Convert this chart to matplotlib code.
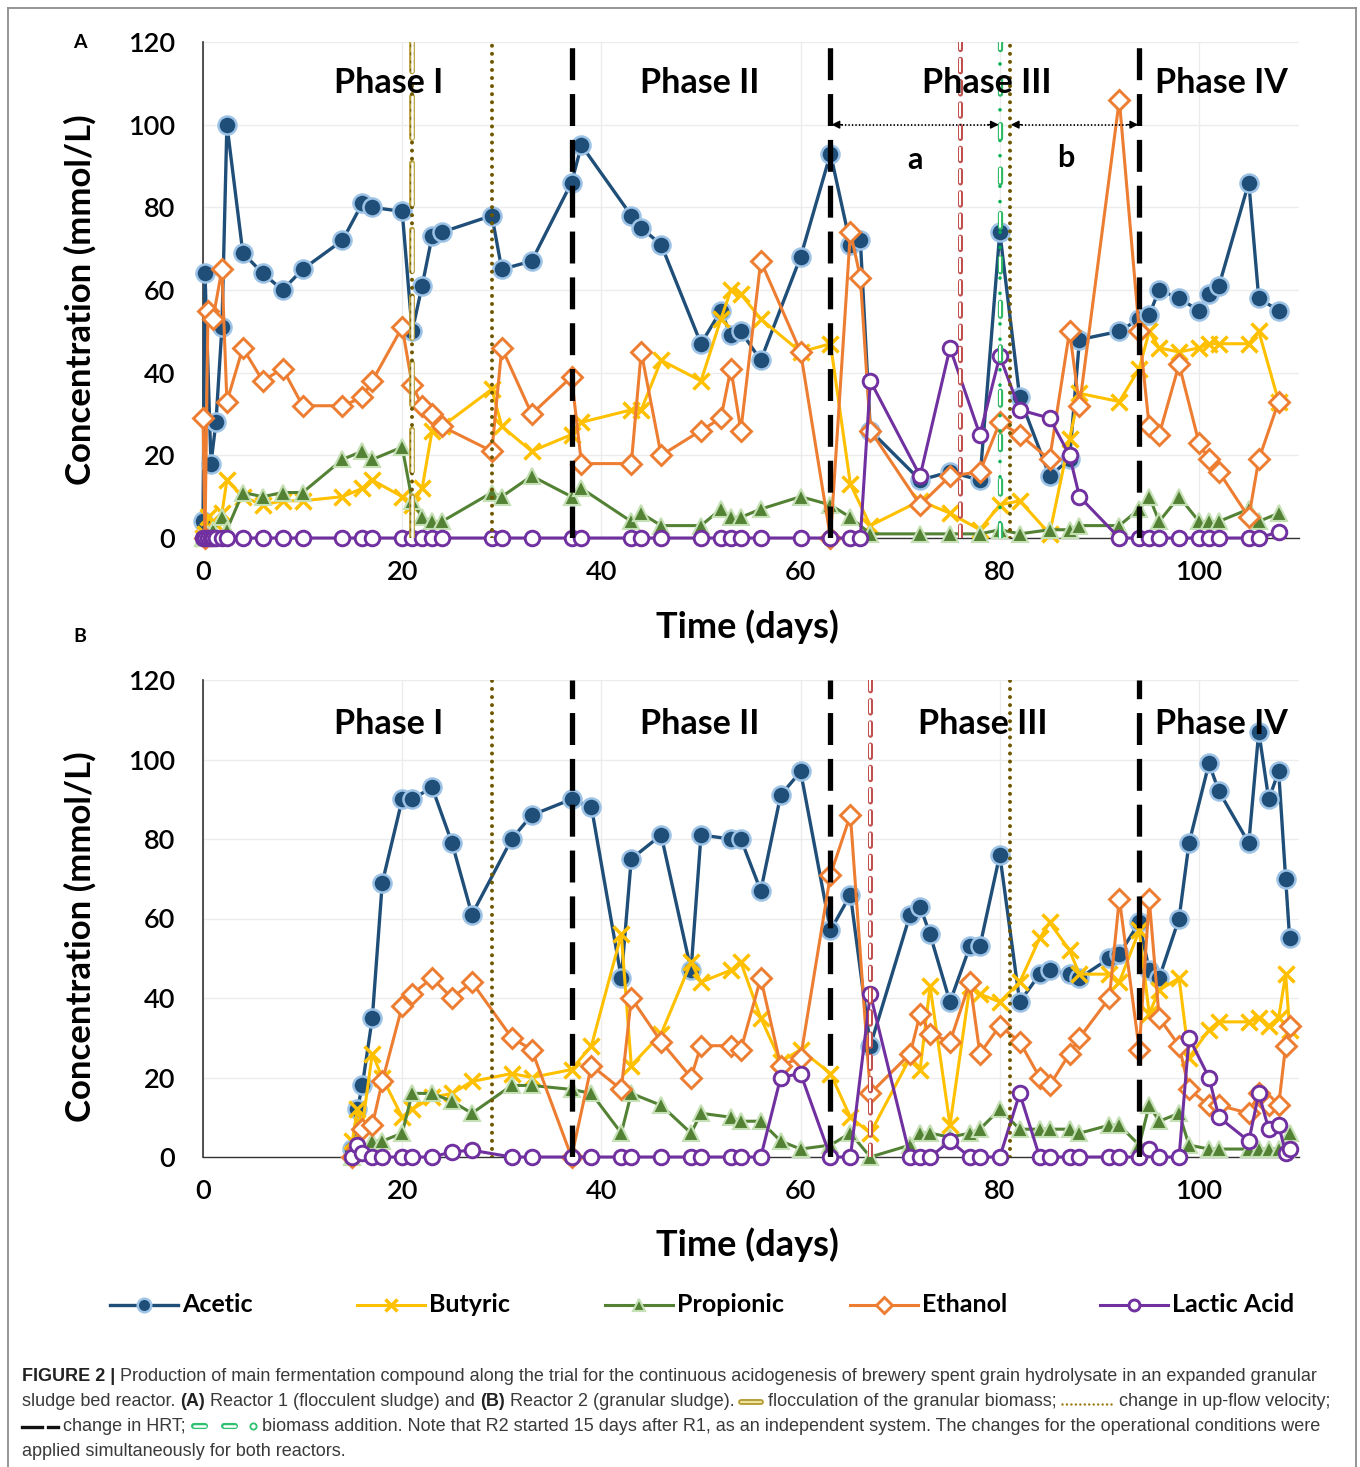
import numpy as np
import matplotlib
matplotlib.use('Agg')
import matplotlib.pyplot as plt
from matplotlib.lines import Line2D
from matplotlib import font_manager as fm

nan = np.nan

# ---------------- data: Reactor 1 (panel A) ----------------
A_days = [0, 0.2, 0.5, 0.8, 1.0, 1.3, 1.9, 2.4, 4, 6, 8, 10, 14, 16, 17, 20, 21, 22, 23, 24,
          29, 30, 33, 37, 38, 43, 44, 46, 50, 52, 53, 54, 56, 60, 63, 65, 66, 67, 72, 75,
          78, 80, 82, 85, 87, 88, 92, 94, 95, 96, 98, 100, 101, 102, 105, 106, 108]
A_acetic = [4, 64, nan, 18, nan, 28, 51, 100, 69, 64, 60, 65, 72, 81, 80, 79, 50, 61, 73, 74,
            78, 65, 67, 86, 95, 78, 75, 71, 47, 55, 49, 50, 43, 68, 93, 71, 72, 26, 14, 16,
            14, 74, 34, 15, 19, 48, 50, 53, 54, 60, 58, 55, 59, 61, 86, 58, 55]
A_butyric = [0, 1, 5, nan, 4, nan, 6, 14, 10, 8, 9, 9, 10, 12, 14, 10, 8, 12, 26, 27,
             36, 27, 21, 25, 28, 31, 31, 43, 38, 53, 60, 59, 53, 45, 47, 13, nan, 3, 9, 6,
             2, 8, 9, 1, 24, 35, 33, 41, 50, 46, 45, 46, 47, 47, 47, 50, 33]
A_propionic = [0, 0, 1, nan, 2, nan, 5, 2, 11, 10, 11, 11, 19, 21, 19, 22, 9, 5, 4, 4,
               11, 10, 15, 10, 12, 4, 6, 3, 3, 7, 5, 5, 7, 10, 8, 5, nan, 1, 1, 1,
               1, 2, 1, 2, 2, 3, 3, 7, 10, 4, 10, 4, 4, 4, 7, 4, 6]
A_ethanol = [29, 0, 55, nan, 53, nan, 65, 33, 46, 38, 41, 32, 32, 34, 38, 51, 37, 32, 30, 27,
             21, 46, 30, 39, 18, 18, 45, 20, 26, 29, 41, 26, 67, 45, 0, 74, 63, 26, 8, 15,
             16, 28, 25, 19, 50, 32, 106, 50, 27, 25, 42, 23, 19, 16, 5, 19, 33]
A_lactic = [0, 0, 0, 0, 0, 0, 0, 0, 0, 0, 0, 0, 0, 0, 0, 0, 0, 0, 0, 0,
            0, 0, 0, 0, 0, 0, 0, 0, 0, 0, 0, 0, 0, 0, 0, 0, 0, 38, 15, 46,
            25, 44, 31, 29, 20, 10, 0, 0, 0, 0, 0, 0, 0, 0, 0, 0, 1.5]

# ---------------- data: Reactor 2 (panel B) ----------------
B_days = [15, 15.5, 16, 17, 18, 20, 21, 23, 25, 27, 31, 33, 37, 39, 42, 43, 46, 49, 50, 53,
          54, 56, 58, 60, 63, 65, 67, 71, 72, 73, 75, 77, 78, 80, 82, 84, 85, 87, 88, 91,
          92, 94, 95, 96, 98, 99, 101, 102, 105, 106, 107, 108, 108.7, 109.1]
B_acetic = [2, 12, 18, 35, 69, 90, 90, 93, 79, 61, 80, 86, 90, 88, 45, 75, 81, 47, 81, 80,
            80, 67, 91, 97, 57, 66, 28, 61, 63, 56, 39, 53, 53, 76, 39, 46, 47, 46, 45, 50,
            51, 59, 47, 45, 60, 79, 99, 92, 79, 107, 90, 97, 70, 55]
B_butyric = [4, 12, 8, 26, 20, 10, 12, 15, 16, 19, 21, 20, 22, 28, 56, 23, 31, 49, 44, 47,
             49, 35, 24, 27, 21, 10, 6, 25, 22, 43, 8, 43, 41, 39, 44, 55, 59, 52, 46, 46,
             44, 57, 36, 42, 45, 25, 32, 34, 34, 35, 33, 35, 46, 32]
B_propionic = [0, 1, 2, 4, 4, 6, 16, 16, 14, 11, 18, 18, 17, 16, 6, 16, 13, 6, 11, 10,
               9, 9, 4, 2, 3, 6, 0, 3, 6, 6, 5, 6, 7, 12, 7, 7, 7, 7, 6, 8,
               8, 3, 13, 9, 11, 3, 2, 2, 2, 2, 2, 2, 2, 6]
B_ethanol = [0, 2, 7, 8, 19, 38, 41, 45, 40, 44, 30, 27, 0, 23, 17, 40, 29, 20, 28, 28,
             27, 45, 23, 25, 71, 86, 16, 26, 36, 31, 29, 44, 26, 33, 29, 20, 18, 26, 30, 40,
             65, 27, 65, 35, 28, 17, 13, 13, 11, 16, 13, 13, 28, 33]
B_lactic = [0, 3, 1, 0, 0, 0, 0, 0, 1.3, 1.7, 0, 0, 0, 0, 0, 0, 0, 0, 0, 0,
            0, 0, 20, 21, 0, 0, 41, 0, 0, 0, 4, 0, 0, 0, 16, 0, 0, 0, 0, 0,
            0, 0, 2, 0, 0, 30, 20, 10, 4, 16, 7, 8, 1, 2]

# operational events (days)
hrt_days = [37, 63, 94]
A_upflow_days = [21, 29, 81]
B_upflow_days = [29, 81]
A_floc_days = [21]
A_red_days = [76]
B_red_days = [67]
A_biomass_days = [80]

series_names = ['Acetic', 'Butyric', 'Propionic', 'Ethanol', 'Lactic Acid']
phase_labels = ['Phase I', 'Phase II', 'Phase III', 'Phase IV']
x_ticks = [0, 20, 40, 60, 80, 100]
y_ticks = [0, 20, 40, 60, 80, 100, 120]

# ---------------- setup ----------------
plt.rcParams['font.family'] = ['Lato', 'DejaVu Sans']
plt.rcParams['lines.scale_dashes'] = False

W, H, DPI = 1360, 1467, 100
fig = plt.figure(figsize=(W / DPI, H / DPI), dpi=DPI)
fig.patch.set_facecolor('white')

def fx(px):
    return px / W

def fy(py):
    return 1 - py / H

PXD = 9.96  # pixels per day
styles = [
    dict(color='#1f4e79', lw=2.4, marker='o', ms=13, mfc='#1f4e79', mec='#9dc3e6', mew=1.8, zorder=3.0),
    dict(color='#ffc000', lw=2.2, marker='x', ms=11.5, mew=2.5, zorder=3.1),
    dict(color='#548235', lw=2.2, marker='^', ms=12, mfc='#548235', mec='#c5e0b4', mew=1.5, zorder=3.2),
    dict(color='#ed7d31', lw=2.2, marker='D', ms=10.5, mfc='white', mec='#ed7d31', mew=2.1, zorder=3.3),
    dict(color='#7030a0', lw=2.2, marker='o', ms=10.5, mfc='white', mec='#7030a0', mew=2.1, zorder=3.4),
]

def setup_axes(top_px, bot_px):
    ax = fig.add_axes([fx(203), fy(bot_px), 110 * PXD / W, (bot_px - top_px) / H])
    ax.set_xlim(0, 110)
    ax.set_ylim(0, 120)
    ax.set_xticks(x_ticks)
    ax.set_yticks(y_ticks)
    ax.grid(True, color='#ececec', lw=1.0, zorder=0)
    ax.set_axisbelow(True)
    for s in ['top', 'right']:
        ax.spines[s].set_visible(False)
    ax.spines['left'].set_color('#333333')
    ax.spines['left'].set_linewidth(1.2)
    ax.spines['bottom'].set_color('#333333')
    ax.spines['bottom'].set_linewidth(1.0)
    ax.tick_params(axis='both', length=0, labelsize=19.5)
    ax.tick_params(axis='y', pad=20)
    ax.tick_params(axis='x', pad=16)
    for lab in ax.get_xticklabels() + ax.get_yticklabels():
        lab.set_fontweight('semibold')
    return ax

def plot_panel(ax, days, cols):
    d = np.asarray(days, float)
    for vals, st in zip(cols, styles):
        v = np.asarray(vals, float)
        m = ~np.isnan(v)
        ax.plot(d[m], v[m], clip_on=False, **st)

def hollow_vline(ax, x, color, seg, gap, outer=3.2, inner=1.2, z=6):
    ax.axvline(x, color=color, lw=outer, dashes=(seg, gap), dash_capstyle='round', zorder=z)
    ax.axvline(x, color='white', lw=inner, dashes=(seg, gap), dash_capstyle='round', zorder=z + 0.01)

def dotted_vline(ax, x, color='#6e5800', lw=2.9, z=6):
    ax.axvline(x, color=color, lw=lw, dashes=(0.01, 5.8), dash_capstyle='round', zorder=z)

def hrt_vline(ax, x):
    ax.axvline(x, color='black', lw=3.8, dashes=(23, 10), zorder=6.5)

# ---------------- panel A ----------------
axA = setup_axes(42, 538)
plot_panel(axA, A_days, [A_acetic, A_butyric, A_propionic, A_ethanol, A_lactic])
for d in A_floc_days:
    hollow_vline(axA, d, '#b8a03a', 30, 18, outer=4.2, inner=1.8)
for d in A_upflow_days:
    dotted_vline(axA, d)
for d in A_red_days:
    hollow_vline(axA, d, '#c0504d', 9, 7, outer=3.6, inner=1.4)
for d in A_biomass_days:
    axA.axvline(d, color='#00b050', lw=2.6, dashes=(0.01, 11), dash_capstyle='round', zorder=6)
    hollow_vline(axA, d, '#2fb864', 10, 22, outer=3.8, inner=1.5)
for d in hrt_days:
    hrt_vline(axA, d)

# range arrows a / b
for (x0, x1) in [(63, 80), (81, 94)]:
    axA.plot([x0 + 0.8, x1 - 0.8], [100, 100], color='black', lw=1.3, ls=(0, (1, 1.5)), zorder=7)
    for xa, xb in [(x0 + 1.2, x0 + 0.1), (x1 - 1.2, x1 - 0.1)]:
        axA.annotate('', xy=(xb, 100), xytext=(xa, 100),
                     arrowprops=dict(arrowstyle='-|>', color='black', lw=1.0,
                                     mutation_scale=12, shrinkA=0, shrinkB=0), zorder=7)
axA.text(71.5, 91.5, 'a', ha='center', va='center', fontsize=22, fontweight='bold', zorder=8)
axA.text(86.6, 92, 'b', ha='center', va='center', fontsize=22, fontweight='bold', zorder=8)

for lab, xd in zip(phase_labels, [18.6, 49.9, 78.7, 102.3]):
    axA.text(xd, 110, lab, ha='center', va='center', fontsize=24.5, fontweight='bold', zorder=8)

# ---------------- panel B ----------------
axB = setup_axes(680, 1157)
plot_panel(axB, B_days, [B_acetic, B_butyric, B_propionic, B_ethanol, B_lactic])
for d in B_upflow_days:
    dotted_vline(axB, d)
for d in B_red_days:
    hollow_vline(axB, d, '#c0504d', 9, 7, outer=3.6, inner=1.4)
for d in hrt_days:
    hrt_vline(axB, d)
for lab, xd in zip(phase_labels, [18.6, 49.9, 78.3, 102.3]):
    axB.text(xd, 109, lab, ha='center', va='center', fontsize=24.5, fontweight='bold', zorder=8)

# ---------------- axis labels ----------------
for ypx in [300, 937]:
    fig.text(fx(80), fy(ypx), 'Concentration (mmol/L)', rotation=90, ha='center', va='center',
             fontsize=25, fontweight='bold')
for ypx in [627, 1245]:
    fig.text(fx(747), fy(ypx), 'Time (days)', ha='center', va='center', fontsize=26, fontweight='bold')
fig.text(fx(80), fy(43), 'A', ha='center', va='center', fontsize=14, fontweight='bold')
fig.text(fx(80), fy(637), 'B', ha='center', va='center', fontsize=14, fontweight='bold')

# ---------------- legend ----------------
leg_x = [110, 357, 605, 850, 1100]
for x0, name, st in zip(leg_x, series_names, styles):
    st2 = dict(st)
    st2.pop('zorder', None)
    ln = Line2D([fx(x0), fx(x0 + 34), fx(x0 + 68)], [fy(1305)] * 3, transform=fig.transFigure,
                markevery=[1], **st2)
    ln.set_markersize(st['ms'] * 0.75)
    fig.add_artist(ln)
    fig.text(fx(x0 + 72), fy(1305), name, ha='left', va='center', fontsize=18, fontweight='bold')

# ---------------- border ----------------
bc = dict(color='#8c8c8c', lw=1.3, transform=fig.transFigure)
fig.add_artist(Line2D([fx(8), fx(8)], [fy(8), 0], **bc))
fig.add_artist(Line2D([fx(8), fx(1356)], [fy(8), fy(8)], **bc))
fig.add_artist(Line2D([fx(1356), fx(1356)], [fy(8), 0], **bc))

# ---------------- caption ----------------
names = {f.name for f in fm.fontManager.ttflist}
CAPF = 'Liberation Sans Narrow' if 'Liberation Sans Narrow' in names else 'Liberation Sans'
CAPC = '#3a3a3a'
renderer = fig.canvas.get_renderer()

def twidth(s, size, weight='normal'):
    t = fig.text(0, 0, s, fontsize=size, fontweight=weight, family=CAPF)
    w = t.get_window_extent(renderer).width
    t.remove()
    return w

line1 = [('FIGURE 2 |', 'bold'),
         ('Production of main fermentation compound along the trial for the continuous acidogenesis '
          'of brewery spent grain hydrolysate in an expanded granular', 'normal')]
s0 = 12.0
w0 = twidth(line1[0][0], s0, 'bold') + twidth('a a', s0) - twidth('aa', s0) + twidth(line1[1][0], s0)
CAPS = s0 * 1300 / w0
SPACE = twidth('a a', CAPS) - twidth('aa', CAPS)

def sym_floc(x, yb):
    w = 24
    for lw, c in [(4.2, '#b39a2e'), (1.6, '#efe2a0')]:
        fig.add_artist(Line2D([fx(x + 2), fx(x + w - 2)], [fy(yb - 4)] * 2, lw=lw, color=c,
                              solid_capstyle='round', transform=fig.transFigure))
    return w

def sym_dots(x, yb):
    w = 52
    fig.add_artist(Line2D([fx(x), fx(x + w)], [fy(yb - 2)] * 2, lw=1.8, color='#9a7b10',
                          dashes=(0.01, 3.2), dash_capstyle='round', transform=fig.transFigure))
    return w

def sym_hrt(x, yb):
    fig.add_artist(Line2D([fx(x), fx(x + 20)], [fy(yb - 4)] * 2, lw=2.4, color='#111111',
                          transform=fig.transFigure))
    fig.add_artist(Line2D([fx(x + 26), fx(x + 36)], [fy(yb - 4)] * 2, lw=2.4, color='#111111',
                          transform=fig.transFigure))
    return 36

def sym_bio(x, yb):
    for a in [x, x + 30]:
        for lw, c in [(4.4, '#2fc072'), (1.8, 'white')]:
            fig.add_artist(Line2D([fx(a + 3), fx(a + 14)], [fy(yb - 5)] * 2, lw=lw, color=c,
                                  solid_capstyle='round', transform=fig.transFigure))
    fig.add_artist(Line2D([fx(x + 62)], [fy(yb - 5)], marker='o', ms=4.5, mfc='white', mec='#2fc072',
                          mew=1.3, transform=fig.transFigure))
    return 66

def put_line(items, yb, x=22):
    first = True
    for it in items:
        if not first:
            x += SPACE
        first = False
        if callable(it):
            x += it(x, yb)
        else:
            s, wgt = it
            t = fig.text(fx(x), fy(yb), s, fontsize=CAPS, fontweight=wgt, family=CAPF,
                         color=CAPC if wgt == 'normal' else '#222222', ha='left', va='baseline')
            x += t.get_window_extent(renderer).width

put_line(line1, 1381)
put_line([('sludge bed reactor.', 'normal'), ('(A)', 'bold'), ('Reactor 1 (flocculent sludge) and', 'normal'),
          ('(B)', 'bold'), ('Reactor 2 (granular sludge).', 'normal'), sym_floc,
          ('flocculation of the granular biomass;', 'normal'), sym_dots,
          ('change in up-flow velocity;', 'normal')], 1406)
put_line([sym_hrt, ('change in HRT;', 'normal'), sym_bio,
          ('biomass addition. Note that R2 started 15 days after R1, as an independent system. '
           'The changes for the operational conditions were', 'normal')], 1431)
put_line([('applied simultaneously for both reactors.', 'normal')], 1456)

fig.savefig('out.png', dpi=DPI, facecolor='white')
